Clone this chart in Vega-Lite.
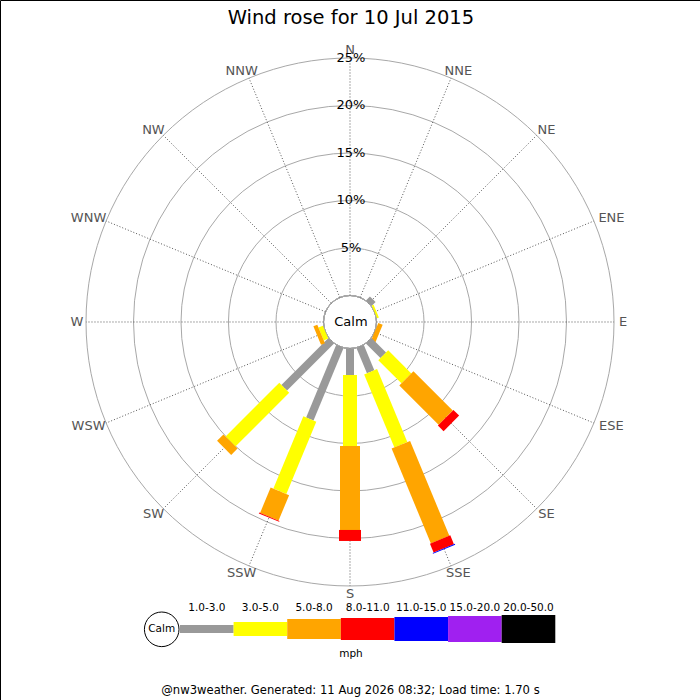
{
  "$schema": "https://vega.github.io/schema/vega-lite/v6.json",
  "width": 700,
  "height": 700,
  "autosize": "none",
  "padding": 0,
  "background": "white",
  "config": {
    "font": "DejaVu Sans",
    "text": {"font": "DejaVu Sans"},
    "view": {"stroke": "#000000", "strokeWidth": 1}
  },
  "layer": [
    {
      "layer": [
        {
          "data": {"values": [{"pct": 0}, {"pct": 5}, {"pct": 10}, {"pct": 15}, {"pct": 20}, {"pct": 25}]},
          "mark": {"type": "arc", "filled": false, "stroke": "#a8a8a8", "strokeWidth": 1, "theta": 0, "theta2": 6.2832},
          "encoding": {
            "x": {"datum": 0, "type": "quantitative", "scale": {"domain": [-36.8421, 36.8421], "nice": false, "zero": false}, "axis": null},
            "y": {"datum": 0, "type": "quantitative", "scale": {"domain": [-39.7895, 33.8947], "nice": false, "zero": false}, "axis": null},
            "radius": {"field": "pct", "type": "quantitative", "stack": null, "scale": {"type": "linear", "zero": false, "nice": false, "domain": [-2.7895, 25], "range": [0, 264]}}
          }
        },
        {
          "data": {"name": "dirs", "values": [
            {"dir": "N", "deg": 0}, {"dir": "NNE", "deg": 22.5}, {"dir": "NE", "deg": 45}, {"dir": "ENE", "deg": 67.5},
            {"dir": "E", "deg": 90}, {"dir": "ESE", "deg": 112.5}, {"dir": "SE", "deg": 135}, {"dir": "SSE", "deg": 157.5},
            {"dir": "S", "deg": 180}, {"dir": "SSW", "deg": 202.5}, {"dir": "SW", "deg": 225}, {"dir": "WSW", "deg": 247.5},
            {"dir": "W", "deg": 270}, {"dir": "WNW", "deg": 292.5}, {"dir": "NW", "deg": 315}, {"dir": "NNW", "deg": 337.5}
          ]},
          "transform": [
            {"calculate": "datum.deg * PI / 180", "as": "rad"},
            {"calculate": "2.7895 * sin(datum.rad)", "as": "xs"},
            {"calculate": "2.7895 * cos(datum.rad)", "as": "ys"},
            {"calculate": "27.7895 * sin(datum.rad)", "as": "xe"},
            {"calculate": "27.7895 * cos(datum.rad)", "as": "ye"},
            {"calculate": "(268 + 5 * length(datum.dir)) * sin(datum.rad) / 9.5", "as": "lx"},
            {"calculate": "272 * cos(datum.rad) / 9.5", "as": "ly"}
          ],
          "layer": [
            {
              "mark": {"type": "rule", "stroke": "#555555", "strokeWidth": 1, "strokeDash": [1, 2]},
              "encoding": {
                "x": {"field": "xs", "type": "quantitative", "scale": {"domain": [-36.8421, 36.8421], "nice": false, "zero": false}, "axis": null},
                "y": {"field": "ys", "type": "quantitative", "scale": {"domain": [-39.7895, 33.8947], "nice": false, "zero": false}, "axis": null},
                "x2": {"field": "xe"},
                "y2": {"field": "ye"}
              }
            },
            {
              "mark": {"type": "text", "fontSize": 13, "fill": "#555555", "align": "center", "baseline": "middle"},
              "encoding": {
                "x": {"field": "lx", "type": "quantitative", "scale": {"domain": [-36.8421, 36.8421], "nice": false, "zero": false}, "axis": null},
                "y": {"field": "ly", "type": "quantitative", "scale": {"domain": [-39.7895, 33.8947], "nice": false, "zero": false}, "axis": null},
                "text": {"field": "dir"}
              }
            }
          ]
        },
        {
          "data": {"values": [
            {"dir": "NE", "deg": 45, "speed": "1.0-3.0", "k": 0, "pct": 0.6},
            {"dir": "ENE", "deg": 67.5, "speed": "3.0-5.0", "k": 1, "pct": 0.2},
            {"dir": "ESE", "deg": 112.5, "speed": "5.0-8.0", "k": 2, "pct": 0.5},
            {"dir": "SE", "deg": 135, "speed": "1.0-3.0", "k": 0, "pct": 2.16},
            {"dir": "SE", "deg": 135, "speed": "3.0-5.0", "k": 1, "pct": 3.44},
            {"dir": "SE", "deg": 135, "speed": "5.0-8.0", "k": 2, "pct": 5.85},
            {"dir": "SE", "deg": 135, "speed": "8.0-11.0", "k": 3, "pct": 0.85},
            {"dir": "SSE", "deg": 157.5, "speed": "1.0-3.0", "k": 0, "pct": 2.88},
            {"dir": "SSE", "deg": 157.5, "speed": "3.0-5.0", "k": 1, "pct": 8.32},
            {"dir": "SSE", "deg": 157.5, "speed": "5.0-8.0", "k": 2, "pct": 10.8},
            {"dir": "SSE", "deg": 157.5, "speed": "8.0-11.0", "k": 3, "pct": 1.0},
            {"dir": "SSE", "deg": 157.5, "speed": "11.0-15.0", "k": 4, "pct": 0.1},
            {"dir": "S", "deg": 180, "speed": "1.0-3.0", "k": 0, "pct": 2.79},
            {"dir": "S", "deg": 180, "speed": "3.0-5.0", "k": 1, "pct": 7.47},
            {"dir": "S", "deg": 180, "speed": "5.0-8.0", "k": 2, "pct": 8.84},
            {"dir": "S", "deg": 180, "speed": "8.0-11.0", "k": 3, "pct": 1.16},
            {"dir": "SSW", "deg": 202.5, "speed": "1.0-3.0", "k": 0, "pct": 8.26},
            {"dir": "SSW", "deg": 202.5, "speed": "3.0-5.0", "k": 1, "pct": 8.24},
            {"dir": "SSW", "deg": 202.5, "speed": "5.0-8.0", "k": 2, "pct": 2.9},
            {"dir": "SSW", "deg": 202.5, "speed": "8.0-11.0", "k": 3, "pct": 0.1},
            {"dir": "SW", "deg": 225, "speed": "1.0-3.0", "k": 0, "pct": 7.0},
            {"dir": "SW", "deg": 225, "speed": "3.0-5.0", "k": 1, "pct": 8.0},
            {"dir": "SW", "deg": 225, "speed": "5.0-8.0", "k": 2, "pct": 0.95},
            {"dir": "WSW", "deg": 247.5, "speed": "3.0-5.0", "k": 1, "pct": 0.5},
            {"dir": "WSW", "deg": 247.5, "speed": "5.0-8.0", "k": 2, "pct": 0.45}
          ]},
          "transform": [
            {"stack": "pct", "groupby": ["dir"], "sort": [{"field": "k", "order": "ascending"}], "as": ["lo", "hi"]},
            {"calculate": "datum.deg * PI / 180", "as": "rad"},
            {"calculate": "(2.7895 + datum.lo) * sin(datum.rad)", "as": "x0"},
            {"calculate": "(2.7895 + datum.lo) * cos(datum.rad)", "as": "y0"},
            {"calculate": "(2.7895 + datum.hi) * sin(datum.rad)", "as": "x1"},
            {"calculate": "(2.7895 + datum.hi) * cos(datum.rad)", "as": "y1"}
          ],
          "mark": {"type": "rule", "strokeCap": "butt"},
          "encoding": {
            "x": {"field": "x0", "type": "quantitative", "scale": {"domain": [-36.8421, 36.8421], "nice": false, "zero": false}, "axis": null},
            "y": {"field": "y0", "type": "quantitative", "scale": {"domain": [-39.7895, 33.8947], "nice": false, "zero": false}, "axis": null},
            "x2": {"field": "x1"},
            "y2": {"field": "y1"},
            "color": {"field": "speed", "type": "ordinal", "legend": null, "scale": {"type": "ordinal", "domain": ["1.0-3.0", "3.0-5.0", "5.0-8.0", "8.0-11.0", "11.0-15.0", "15.0-20.0", "20.0-50.0"], "range": ["#999999", "#ffff00", "#ffa500", "#ff0000", "#0000ff", "#a020f0", "#000000"]}},
            "strokeWidth": {"field": "speed", "type": "ordinal", "legend": null, "scale": {"type": "ordinal", "domain": ["1.0-3.0", "3.0-5.0", "5.0-8.0", "8.0-11.0", "11.0-15.0", "15.0-20.0", "20.0-50.0"], "range": [8, 14, 20, 22, 24, 26, 28]}}
          }
        },
        {
          "data": {"values": [{"pct": 5}, {"pct": 10}, {"pct": 15}, {"pct": 20}, {"pct": 25}]},
          "transform": [
            {"calculate": "datum.pct + '%'", "as": "label"},
            {"calculate": "2.7895 + datum.pct", "as": "ry"}
          ],
          "mark": {"type": "text", "fontSize": 13, "fill": "#000000", "align": "center", "baseline": "middle"},
          "encoding": {
            "x": {"datum": 0.1, "type": "quantitative", "scale": {"domain": [-36.8421, 36.8421], "nice": false, "zero": false}, "axis": null},
            "y": {"field": "ry", "type": "quantitative", "scale": {"domain": [-39.7895, 33.8947], "nice": false, "zero": false}, "axis": null},
            "text": {"field": "label"}
          }
        },
        {
          "data": {"values": [{"label": "Calm"}]},
          "mark": {"type": "text", "fontSize": 13, "fill": "#000000", "align": "center", "baseline": "middle"},
          "encoding": {
            "x": {"datum": 0.1, "type": "quantitative", "scale": {"domain": [-36.8421, 36.8421], "nice": false, "zero": false}, "axis": null},
            "y": {"datum": 0, "type": "quantitative", "scale": {"domain": [-39.7895, 33.8947], "nice": false, "zero": false}, "axis": null},
            "text": {"field": "label"}
          }
        },
        {
          "data": {"values": [{"label": "Wind rose for 10 Jul 2015"}]},
          "mark": {"type": "text", "fontSize": 19.5, "fill": "#000000", "align": "center", "baseline": "alphabetic"},
          "encoding": {
            "x": {"datum": 0.1, "type": "quantitative", "scale": {"domain": [-36.8421, 36.8421], "nice": false, "zero": false}, "axis": null},
            "y": {"datum": 31.37, "type": "quantitative", "scale": {"domain": [-39.7895, 33.8947], "nice": false, "zero": false}, "axis": null},
            "text": {"field": "label"}
          }
        },
        {
          "data": {"values": [{"label": "@nw3weather. Generated: 11 Aug 2026 08:32; Load time: 1.70 s"}]},
          "mark": {"type": "text", "fontSize": 11.6, "fill": "#000000", "align": "center", "baseline": "alphabetic"},
          "encoding": {
            "x": {"datum": 0.05, "type": "quantitative", "scale": {"domain": [-36.8421, 36.8421], "nice": false, "zero": false}, "axis": null},
            "y": {"datum": -39.16, "type": "quantitative", "scale": {"domain": [-39.7895, 33.8947], "nice": false, "zero": false}, "axis": null},
            "text": {"field": "label"}
          }
        },
        {
          "data": {"values": [{"label": "mph"}]},
          "mark": {"type": "text", "fontSize": 10.5, "fill": "#000000", "align": "center", "baseline": "alphabetic"},
          "encoding": {
            "x": {"datum": 0.1, "type": "quantitative", "scale": {"domain": [-36.8421, 36.8421], "nice": false, "zero": false}, "axis": null},
            "y": {"datum": -35.26, "type": "quantitative", "scale": {"domain": [-39.7895, 33.8947], "nice": false, "zero": false}, "axis": null},
            "text": {"field": "label"}
          }
        },
        {
          "data": {"values": [{"label": "Calm"}]},
          "layer": [
            {
              "mark": {"type": "point", "shape": "circle", "size": 1197, "filled": false, "stroke": "#000000", "strokeWidth": 1, "opacity": 1},
              "encoding": {
                "x": {"datum": -19.82, "type": "quantitative", "scale": {"domain": [-36.8421, 36.8421], "nice": false, "zero": false}, "axis": null},
                "y": {"datum": -32.35, "type": "quantitative", "scale": {"domain": [-39.7895, 33.8947], "nice": false, "zero": false}, "axis": null}
              }
            },
            {
              "mark": {"type": "text", "fontSize": 10.5, "fill": "#000000", "align": "center", "baseline": "middle"},
              "encoding": {
                "x": {"datum": -19.82, "type": "quantitative", "scale": {"domain": [-36.8421, 36.8421], "nice": false, "zero": false}, "axis": null},
                "y": {"datum": -32.35, "type": "quantitative", "scale": {"domain": [-39.7895, 33.8947], "nice": false, "zero": false}, "axis": null},
                "text": {"field": "label"}
              }
            }
          ]
        }
      ]
    },
    {
      "data": {"values": [
        {"speed": "1.0-3.0", "k": 0}, {"speed": "3.0-5.0", "k": 1}, {"speed": "5.0-8.0", "k": 2},
        {"speed": "8.0-11.0", "k": 3}, {"speed": "11.0-15.0", "k": 4}, {"speed": "15.0-20.0", "k": 5},
        {"speed": "20.0-50.0", "k": 6}
      ]},
      "transform": [
        {"calculate": "datum.k + 1", "as": "k2"},
        {"calculate": "datum.k + 0.5", "as": "kc"}
      ],
      "layer": [
        {
          "mark": {"type": "rule", "strokeCap": "butt"},
          "encoding": {
            "x": {"field": "k", "type": "quantitative", "scale": {"domain": [-3.3573, 9.699], "nice": false, "zero": false}, "axis": null},
            "x2": {"field": "k2"},
            "y": {"datum": -32.316, "type": "quantitative", "scale": {"domain": [-39.7895, 33.8947], "nice": false, "zero": false}, "axis": null},
            "color": {"field": "speed", "type": "ordinal", "legend": null, "scale": {"type": "ordinal", "domain": ["1.0-3.0", "3.0-5.0", "5.0-8.0", "8.0-11.0", "11.0-15.0", "15.0-20.0", "20.0-50.0"], "range": ["#999999", "#ffff00", "#ffa500", "#ff0000", "#0000ff", "#a020f0", "#000000"]}},
            "strokeWidth": {"field": "speed", "type": "ordinal", "legend": null, "scale": {"type": "ordinal", "domain": ["1.0-3.0", "3.0-5.0", "5.0-8.0", "8.0-11.0", "11.0-15.0", "15.0-20.0", "20.0-50.0"], "range": [8, 14, 20, 22, 24, 26, 28]}}
          }
        },
        {
          "mark": {"type": "text", "fontSize": 10.5, "fill": "#000000", "align": "center", "baseline": "alphabetic"},
          "encoding": {
            "x": {"field": "kc", "type": "quantitative", "scale": {"domain": [-3.3573, 9.699], "nice": false, "zero": false}, "axis": null},
            "y": {"datum": -30.47, "type": "quantitative", "scale": {"domain": [-39.7895, 33.8947], "nice": false, "zero": false}, "axis": null},
            "text": {"field": "speed"}
          }
        }
      ]
    }
  ],
  "resolve": {"scale": {"x": "independent"}}
}
